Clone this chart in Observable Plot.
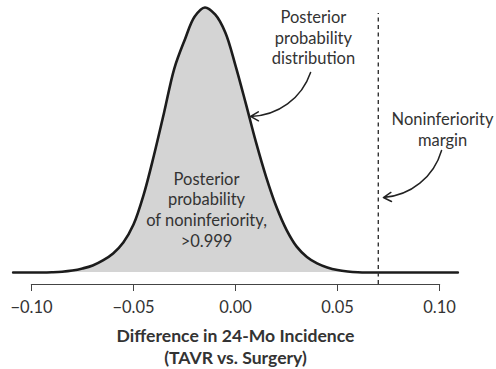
<!DOCTYPE html>
<html><head><meta charset="utf-8">
<script src="https://cdn.jsdelivr.net/npm/d3@7"></script>
<script src="https://cdn.jsdelivr.net/npm/@observablehq/plot@0.6"></script>
<style>body{margin:0;background:#fff}</style>
</head><body><div id="chart"></div>
<script>
// Difference in 24-month incidence (TAVR vs. Surgery) and posterior density
const diffValues = [-0.109, -0.100, -0.095, -0.090, -0.085, -0.080, -0.075, -0.070, -0.065, -0.060, -0.055, -0.050, -0.045, -0.040, -0.035, -0.030, -0.025, -0.020, -0.015, -0.010, -0.005, 0.000, 0.005, 0.010, 0.015, 0.020, 0.025, 0.030, 0.035, 0.040, 0.045, 0.050, 0.055, 0.060, 0.065, 0.109];
const densityValues = [0, 0, 0, 0.02, 0.06, 0.15, 0.31, 0.54, 0.93, 1.47, 2.32, 3.71, 6.03, 9.05, 12.38, 15.78, 17.95, 19.80, 20.50, 19.96, 18.57, 16.01, 13.10, 10.10, 7.40, 5.10, 3.30, 2.00, 1.20, 0.70, 0.39, 0.19, 0.08, 0.02, 0, 0];
const xTicks = [-0.10, -0.05, 0.00, 0.05, 0.10];
const noninferiorityMargin = 0.07;
const axisTitle = ["Difference in 24-Mo Incidence", "(TAVR vs. Surgery)"];
const noteLabels = ["Posterior\nprobability\ndistribution", "Noninferiority\nmargin", "Posterior\nprobability\nof noninferiority,\n>0.999"];
const noteX = [0.0382, 0.1015, -0.0142];
const noteY = [18.2, 11.1, 4.9];
const arrowX1 = [0.0368, 0.101];
const arrowY1 = [15.47, 9.44];
const arrowX2 = [0.0074, 0.0725];
const arrowY2 = [12.07, 5.80];

const yMin = -0.93, yMax = 20.5, marginTop = 20.04;
const data = diffValues.map((d, i) => ({x: d, y: densityValues[i]}));
const notes = noteLabels.map((t, i) => ({t, x: noteX[i], y: noteY[i]}));
const arrows = arrowX1.map((d, i) => ({x1: d, y1: arrowY1[i], x2: arrowX2[i], y2: arrowY2[i]}));
const font = "Lato, 'Open Sans', sans-serif";

const chart = Plot.plot({
  width: 496, height: 369,
  marginLeft: 31, marginRight: 57, marginTop: 7, marginBottom: 85,
  style: {fontFamily: font, color: "#333", background: "#fff"},
  x: {domain: [-0.1, 0.1]},
  y: {domain: [yMin, yMax], axis: null},
  marks: [
    Plot.areaY(data, {x: "x", y: "y", fill: "#d4d4d4", curve: "catmull-rom"}),
    Plot.lineY(data, {x: "x", y: "y", stroke: "#1c1c1c", strokeWidth: 2.6, curve: "catmull-rom"}),
    Plot.ruleX([noninferiorityMargin], {y1: yMin, y2: marginTop, stroke: "#333", strokeWidth: 1.4, strokeDasharray: "4,3.5"}),
    Plot.frame({anchor: "bottom", stroke: "#444", strokeWidth: 1.2}),
    Plot.axisX({ticks: xTicks, tickSize: 7, tickPadding: 10, tickFormat: d3.format(".2f"), fontSize: 16.5, stroke: "#444", label: null}),
    Plot.text(notes, {x: "x", y: "y", text: "t", fontSize: 16.5, lineHeight: 1.25, fill: "#333"}),
    Plot.arrow(arrows, {x1: "x1", y1: "y1", x2: "x2", y2: "y2", bend: 35, stroke: "#222", strokeWidth: 1.5, headLength: 9}),
    Plot.text([axisTitle.join("\n")], {frameAnchor: "bottom", lineAnchor: "middle", dy: 61.5, fontSize: 17.6, fontWeight: "bold", lineHeight: 1.25, fill: "#333"})
  ]
});
document.getElementById("chart").appendChild(chart);
</script>
</body></html>
